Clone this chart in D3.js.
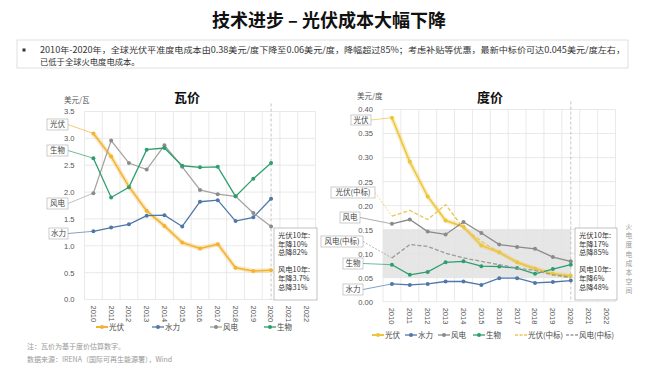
<!DOCTYPE html>
<html>
<head>
<meta charset="utf-8">
<script src="https://d3js.org/d3.v7.min.js"></script>
<style>
  body { margin: 0; background: #fff; }
  svg { font-family: "Noto Sans CJK SC", "Noto Sans", sans-serif; }
  .grid line { stroke: #e3e3e3; stroke-width: 0.8; }
  .tick text { fill: #555; }
  .lbl rect { fill: #fff; stroke: #aaa; stroke-width: 0.6; }
  .lbl text { font-size: 7.5px; fill: #444; }
  .note text { font-size: 7.3px; fill: #333; }
  .legend text { font-size: 7.5px; fill: #444; }
</style>
</head>
<body>
<svg width="649" height="379"></svg>
<script>
// ---- data ----
var years = ["2010","2011","2012","2013","2014","2015","2016","2017","2018","2019","2020","2021","2022"];
var dataYears = years.slice(0, 11);

// 瓦价 (美元/瓦)
var wattPV    = [3.09, 2.66, 2.10, 1.65, 1.37, 1.06, 0.95, 1.03, 0.59, 0.53, 0.545];
var wattHydro = [1.27, 1.34, 1.40, 1.56, 1.57, 1.36, 1.82, 1.85, 1.46, 1.53, 1.875];
var wattWind  = [1.98, 2.96, 2.54, 2.42, 2.87, 2.47, 2.04, 1.96, 1.92, 1.61, 1.36];
var wattBio   = [2.63, 1.90, 2.09, 2.79, 2.82, 2.49, 2.46, 2.47, 1.92, 2.25, 2.54];
var wattTicks = [0, 0.5, 1.0, 1.5, 2.0, 2.5, 3.0, 3.5];

// 度价 (美元/度)
var kwhPV      = [0.383, 0.291, 0.219, 0.169, 0.156, 0.117, 0.103, 0.082, 0.069, 0.058, 0.054];
var kwhPVBid   = [0.178, 0.190, 0.171, 0.202, 0.153, 0.126, 0.102, 0.081, 0.067, 0.056, 0.049];
var kwhWind    = [0.162, 0.171, 0.146, 0.140, 0.166, 0.143, 0.119, 0.114, 0.110, 0.093, 0.084];
var kwhWindBid = [0.091, 0.119, 0.115, 0.101, 0.091, 0.084, 0.077, 0.070, 0.065, 0.056, 0.051];
var kwhBio     = [0.077, 0.056, 0.062, 0.082, 0.084, 0.074, 0.073, 0.070, 0.058, 0.068, 0.077];
var kwhHydro   = [0.037, 0.035, 0.037, 0.042, 0.042, 0.035, 0.049, 0.049, 0.039, 0.041, 0.044];
var kwhTicks   = [0, 0.05, 0.10, 0.15, 0.20, 0.25, 0.30, 0.35, 0.40];

var svg = d3.select("svg");

// ---- header ----
svg.append("text")
   .attr("x", 329).attr("y", 27)
   .attr("text-anchor", "middle")
   .style("font-size", "18px").style("font-weight", "bold").style("fill", "#111")
   .text("技术进步 – 光伏成本大幅下降");

svg.append("rect")
   .attr("x", 17).attr("y", 40).attr("width", 611).attr("height", 28)
   .attr("fill", "none").attr("stroke", "#d8d8d8").attr("stroke-width", 0.8);
svg.append("rect").attr("x", 22.5).attr("y", 48.5).attr("width", 3).attr("height", 3).attr("fill", "#333");
svg.append("text")
   .attr("x", 40).attr("y", 53)
   .attr("textLength", 585).attr("lengthAdjust", "spacingAndGlyphs")
   .style("font-size", "8.3px").style("fill", "#333")
   .text("2010年-2020年，全球光伏平准度电成本由0.38美元/度下降至0.06美元/度，降幅超过85%；考虑补贴等优惠，最新中标价可达0.045美元/度左右，");
svg.append("text")
   .attr("x", 40).attr("y", 65)
   .style("font-size", "8.3px").style("fill", "#333")
   .text("已低于全球火电度电成本。");

// ---- panel drawing ----
function drawPanel(cfg) {
  var x = d3.scaleBand().domain(years).range(cfg.xr).paddingInner(0).paddingOuter(0);
  var y = d3.scaleLinear().domain([0, cfg.ymax]).range(cfg.yr);
  var cx = function(yr) { return x(yr) + x.bandwidth() / 2; };
  var g = svg.append("g");

  if (cfg.shade) {
    g.append("rect")
     .attr("x", cfg.xr[0]).attr("y", y(cfg.shade[1]))
     .attr("width", cx("2020") - cfg.xr[0])
     .attr("height", y(cfg.shade[0]) - y(cfg.shade[1]))
     .attr("fill", "#e6e6e6");
  }

  var grid = g.append("g").attr("class", "grid");
  grid.selectAll(".h").data(cfg.ticks).enter().append("line")
      .attr("x1", cfg.xr[0]).attr("x2", cfg.xr[1])
      .attr("y1", function(d) { return y(d); }).attr("y2", function(d) { return y(d); });
  grid.selectAll(".v").data(years.concat(["end"])).enter().append("line")
      .attr("x1", function(d) { return d === "end" ? cfg.xr[1] : x(d); })
      .attr("x2", function(d) { return d === "end" ? cfg.xr[1] : x(d); })
      .attr("y1", y(cfg.ymax)).attr("y2", y(0));

  // dashed line at 2020
  g.append("line")
   .attr("x1", cx("2020")).attr("x2", cx("2020"))
   .attr("y1", y(cfg.ymax) - 8).attr("y2", y(0))
   .attr("stroke", "#b5b5b5").attr("stroke-width", 0.8).attr("stroke-dasharray", "3,2");

  // axes
  var ya = g.append("g").attr("transform", "translate(" + (cfg.xr[0] - 7) + ",0)")
            .call(d3.axisLeft(y).tickValues(cfg.ticks).tickSize(0).tickFormat(d3.format(cfg.fmt)));
  ya.select(".domain").remove();
  ya.selectAll("text").style("font-size", "7.6px");

  var xa = g.append("g").attr("transform", "translate(0," + (y(0) + 4) + ")")
            .call(d3.axisBottom(x).tickSize(0));
  xa.select(".domain").remove();
  xa.selectAll("text")
    .attr("transform", "rotate(90)")
    .attr("x", 2).attr("y", 0).attr("dy", "0.35em")
    .style("text-anchor", "start").style("font-size", "7.5px");

  // unit + title
  g.append("text").attr("x", cfg.unitX).attr("y", cfg.unitY)
   .style("font-size", "7.5px").style("fill", "#555").text(cfg.unit);
  g.append("text").attr("x", cfg.titleX).attr("y", 102).attr("text-anchor", "middle")
   .style("font-size", "13px").style("font-weight", "bold").style("fill", "#111").text(cfg.title);

  // annotation box
  var nb = g.append("g").attr("class", "note");
  nb.append("rect").attr("x", cfg.note.x).attr("y", 228).attr("width", cfg.note.w).attr("height", 72)
    .attr("fill", "#fff").attr("stroke", "#999").attr("stroke-width", 0.6);
  nb.selectAll("text").data(cfg.note.lines).enter().append("text")
    .attr("x", cfg.note.x + 4)
    .attr("y", function(d, i) { return 238 + i * 8.7 + (i > 2 ? 8 : 0); })
    .text(function(d) { return d; });

  // series
  var line = d3.line()
      .x(function(d, i) { return cx(dataYears[i]); })
      .y(function(d) { return y(d); });

  cfg.series.forEach(function(s) {
    // connector from label box to first point
    g.append("line")
     .attr("x1", s.box[0] + s.box[2]).attr("y1", s.box[1] + s.box[3] / 2)
     .attr("x2", cx(dataYears[0])).attr("y2", y(s.values[0]))
     .attr("stroke", s.color).attr("stroke-width", 0.7)
     .attr("stroke-dasharray", s.dash ? "2,1.5" : null);
    if (s.glow) {
      g.append("path").datum(s.values).attr("d", line)
       .attr("fill", "none").attr("stroke", s.color).attr("stroke-opacity", 0.3)
       .attr("stroke-width", 4.5).attr("stroke-linejoin", "round");
    }
    g.append("path").datum(s.values).attr("d", line)
     .attr("fill", "none").attr("stroke", s.color)
     .attr("stroke-width", s.width || 1.3)
     .attr("stroke-dasharray", s.dash ? "4,2" : null);
    if (!s.dash) {
      g.selectAll(null).data(s.values).enter().append("circle")
       .attr("cx", function(d, i) { return cx(dataYears[i]); })
       .attr("cy", function(d) { return y(d); })
       .attr("r", 2).attr("fill", s.marker || s.color);
    }
    var lb = g.append("g").attr("class", "lbl");
    lb.append("rect").attr("x", s.box[0]).attr("y", s.box[1]).attr("width", s.box[2]).attr("height", s.box[3]);
    lb.append("text").attr("x", s.box[0] + s.box[2] / 2).attr("y", s.box[1] + s.box[3] / 2 + 2.7)
      .attr("text-anchor", "middle").text(s.name);
  });

  // legend
  var lg = g.append("g").attr("class", "legend");
  cfg.series.slice().sort(function(a, b) { return a.lx - b.lx; }).forEach(function(s) {
    lg.append("line").attr("x1", s.lx).attr("x2", s.lx + 12)
      .attr("y1", cfg.legendY).attr("y2", cfg.legendY)
      .attr("stroke", s.color).attr("stroke-width", s.glow ? 2 : 1.3)
      .attr("stroke-dasharray", s.dash ? "3,1.5" : null);
    if (!s.dash) {
      lg.append("circle").attr("cx", s.lx + 6).attr("cy", cfg.legendY).attr("r", 2)
        .attr("fill", s.marker || s.color);
    }
    lg.append("text").attr("x", s.lx + 13).attr("y", cfg.legendY + 2.7).text(s.name);
  });
  return { x: x, y: y };
}

var cPV = "#f2b233", cHydro = "#4f78a8", cWind = "#a3a3a3", cBio = "#2e9e6e";

drawPanel({
  xr: [84.5, 315.5], yr: [299.5, 111.5], ymax: 3.5, ticks: wattTicks, fmt: ".1f",
  unit: "美元/瓦", unitX: 64, unitY: 103, title: "瓦价", titleX: 187, legendY: 327,
  note: { x: 274, w: 43, lines: ["光伏10年:", "年降10%", "总降82%", "风电10年:", "年降3.7%", "总降31%"] },
  series: [
    { name: "光伏", values: wattPV,    color: cPV,    glow: true, width: 1.5, box: [47, 119, 21, 11], lx: 96 },
    { name: "水力", values: wattHydro, color: cHydro, box: [49, 228, 19, 11], lx: 152 },
    { name: "风电", values: wattWind,  color: cWind,  marker: "#8c8c8c", box: [47, 198, 21, 11], lx: 210 },
    { name: "生物", values: wattBio,   color: cBio,   box: [47, 145, 21, 11], lx: 264 }
  ]
});

drawPanel({
  xr: [383, 615.5], yr: [301.7, 109.5], ymax: 0.4, ticks: kwhTicks, fmt: ".2f", shade: [0.05, 0.15],
  unit: "美元/度", unitX: 357, unitY: 98.5, title: "度价", titleX: 490, legendY: 335,
  note: { x: 575, w: 42, lines: ["光伏10年:", "年降17%", "总降85%", "风电10年:", "年降6%", "总降48%"] },
  series: [
    { name: "光伏",     values: kwhPV,      color: "#ecc53a", glow: true, width: 1.5, box: [351, 115, 20, 10], lx: 372 },
    { name: "水力",     values: kwhHydro,   color: cHydro, box: [343, 284, 20, 11], lx: 405 },
    { name: "风电",     values: kwhWind,    color: "#8a8a8a", box: [340, 212, 20, 11], lx: 438 },
    { name: "生物",     values: kwhBio,     color: cBio, box: [343, 258, 20, 11], lx: 473 },
    { name: "光伏(中标)", values: kwhPVBid,   color: "#e8c65a", dash: true, box: [331, 187, 44, 11], lx: 515 },
    { name: "风电(中标)", values: kwhWindBid, color: "#9a9a9a", dash: true, box: [321, 236, 42, 11], lx: 566 }
  ]
});

// vertical note at right edge
svg.append("g").selectAll("text").data("火电度电成本空间".split("")).enter().append("text")
   .attr("x", 629).attr("y", function(d, i) { return 229 + i * 9.2; })
   .attr("text-anchor", "middle")
   .style("font-size", "6.8px").style("fill", "#9a9a9a")
   .text(function(d) { return d; });

// footnotes
svg.append("text").attr("x", 27).attr("y", 349)
   .style("font-size", "7px").style("fill", "#999").text("注：瓦价为基于度价估算数字。");
svg.append("text").attr("x", 27).attr("y", 362)
   .style("font-size", "7px").style("fill", "#999").text("数据来源：IRENA（国际可再生能源署），Wind");
</script>
</body>
</html>
